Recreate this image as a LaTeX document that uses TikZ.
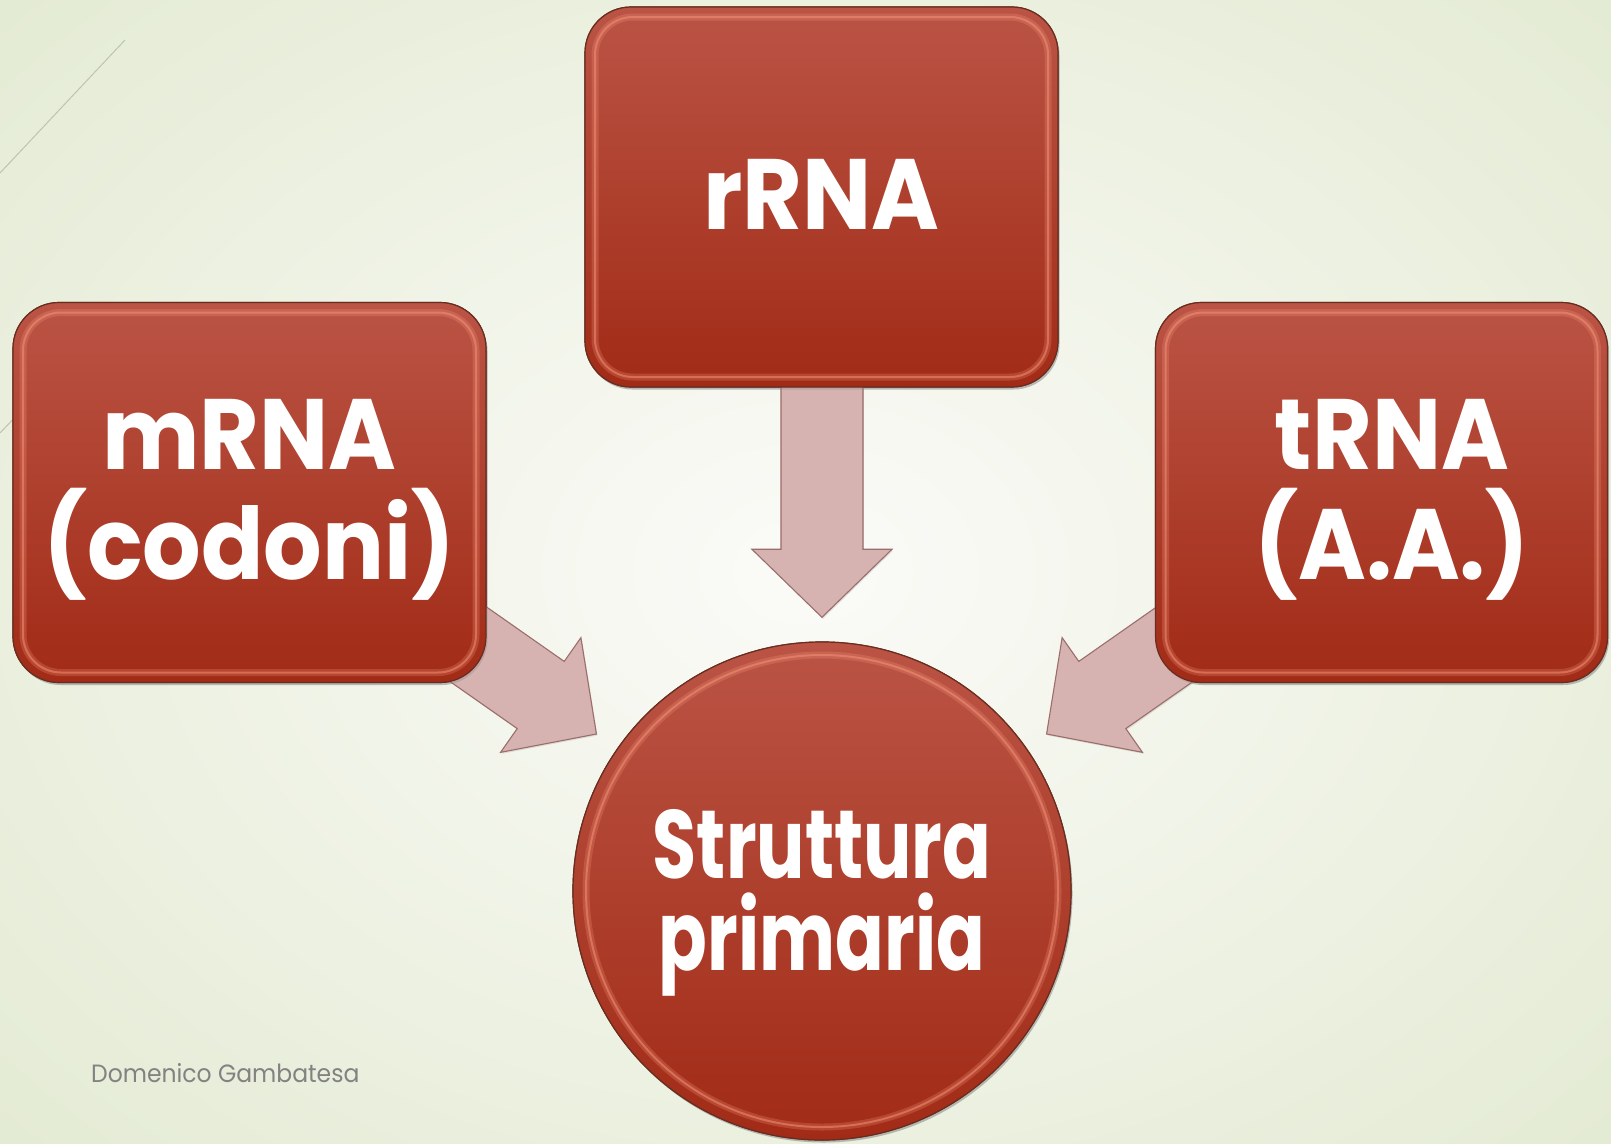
\documentclass[tikz,border=0pt]{standalone}
\usepackage{fontspec}
\setmainfont{Poppins}
\newfontfamily\boxfont{Poppins}[FakeStretch=0.92]
\newfontfamily\circfont{Poppins}[FakeStretch=0.74]
\newfontfamily\footfont{Poppins}[FakeStretch=0.94]
\usetikzlibrary{shadows,calc}

\definecolor{bgedge}{RGB}{228,235,212}
\definecolor{bgmid}{RGB}{251,251,248}
\definecolor{boxtop}{RGB}{187,84,69}
\definecolor{boxbot}{RGB}{161,43,22}
\definecolor{bevel}{RGB}{246,150,124}
\definecolor{rim}{RGB}{105,45,32}
\definecolor{arrowfill}{RGB}{214,178,176}
\definecolor{arrowline}{RGB}{155,110,108}
\definecolor{deco}{RGB}{190,196,172}
\definecolor{footer}{RGB}{130,130,130}

\tikzset{
  rnabox/.style={
    rectangle, rounded corners=46pt, draw=rim, line width=1.2pt,
    top color=boxtop, bottom color=boxbot,
    minimum width=473pt, minimum height=380pt,
    drop shadow={shadow xshift=1.5pt, shadow yshift=-2.5pt, opacity=0.3},
    path picture={
      \draw[bevel, line width=7pt, opacity=0.25, rounded corners=38pt]
        ([shift={(10pt,10pt)}]path picture bounding box.south west) rectangle
        ([shift={(-10pt,-10pt)}]path picture bounding box.north east);
      \draw[bevel, line width=2pt, opacity=0.5, rounded corners=38pt]
        ([shift={(10pt,10pt)}]path picture bounding box.south west) rectangle
        ([shift={(-10pt,-10pt)}]path picture bounding box.north east);
    }},
  rnacircle/.style={
    circle, draw=rim, line width=1.2pt,
    top color=boxtop, bottom color=boxbot,
    minimum size=498pt,
    drop shadow={shadow xshift=1.5pt, shadow yshift=-2.5pt, opacity=0.3},
    path picture={
      \draw[bevel, line width=7pt, opacity=0.25]
        (path picture bounding box.center) circle (236pt);
      \draw[bevel, line width=2pt, opacity=0.5]
        (path picture bounding box.center) circle (236pt);
    }},
  bigtext/.style={text=white, align=center,
    font=\boxfont\fontsize{100}{110}\selectfont\bfseries},
  circtext/.style={text=white, align=center,
    font=\circfont\fontsize{97}{92}\selectfont\bfseries},
  fatarrowstyle/.style={fill=arrowfill, draw=arrowline, line width=1.1pt,
    line join=miter,
    drop shadow={shadow xshift=1pt, shadow yshift=-1.5pt, opacity=0.2}},
  fatarrow/.pic={
    \path[fatarrowstyle] (0,0) -- (-68,-70) -- (-68,-41) -- (-250,-41)
      -- (-250,41) -- (-68,41) -- (-68,70) -- cycle;
  }
}

\begin{document}
\begin{tikzpicture}[x=1pt,y=-1pt]
  % page and soft radial background
  \useasboundingbox (0,0) rectangle (1611,1143);
  \shade[inner color=bgmid, outer color=bgedge] (-300,-250) rectangle (1911,1393);

  % thin decorative strokes in the upper left corner
  \draw[deco, line width=1pt] (0,173) -- (125,40);
  \draw[deco, line width=1pt] (0,433) -- (60,370);

  % nodes
  \node[rnabox] (mrna) at (249.5,492.5) {};
  \node[rnabox] (rrna) at (821.5,197) {};
  \node[rnabox, minimum width=452pt] (trna) at (1381.5,492.5) {};
  \node[rnacircle] (prim) at (822,891) {};

  % arrow tips on the lines towards the circle
  \coordinate (tipM) at ($(mrna.center)!0.606!(prim.center)$);
  \coordinate (tipR) at ($(rrna.south)!0.905!(prim.north)$);
  \coordinate (tipT) at ($(1392,492.5)!0.606!(prim.center)$);

  % block arrows
  \pic[rotate=-35] at (tipM) {fatarrow};
  \pic[rotate=-90] at (tipR) {fatarrow};
  \pic[rotate=-145] at (tipT) {fatarrow};

  % boxes again on top of the arrow shafts
  \node[rnabox] at (mrna.center) {};
  \node[rnabox] at (rrna.center) {};
  \node[rnabox, minimum width=452pt] at (trna.center) {};
  \node[rnacircle] at (prim.center) {};

  % labels
  \node[bigtext, yshift=-7pt] (mrnat) at (mrna.center) {mRNA\\(codoni)};
  \node[bigtext, yshift=3pt] (rrnat) at (rrna.center) {rRNA};
  \node[bigtext, yshift=-7pt] (trnat) at (1392,492.5) {tRNA\\(A.A.)};
  \node[circtext, yshift=-12pt] (primt) at (prim.center) {Struttura\\primaria};

  % footer
  \node[anchor=base west, text=footer, font=\footfont\fontsize{25}{30}\selectfont, inner sep=0pt] (author) at (91,1082) {Domenico Gambatesa};
\end{tikzpicture}
\end{document}
